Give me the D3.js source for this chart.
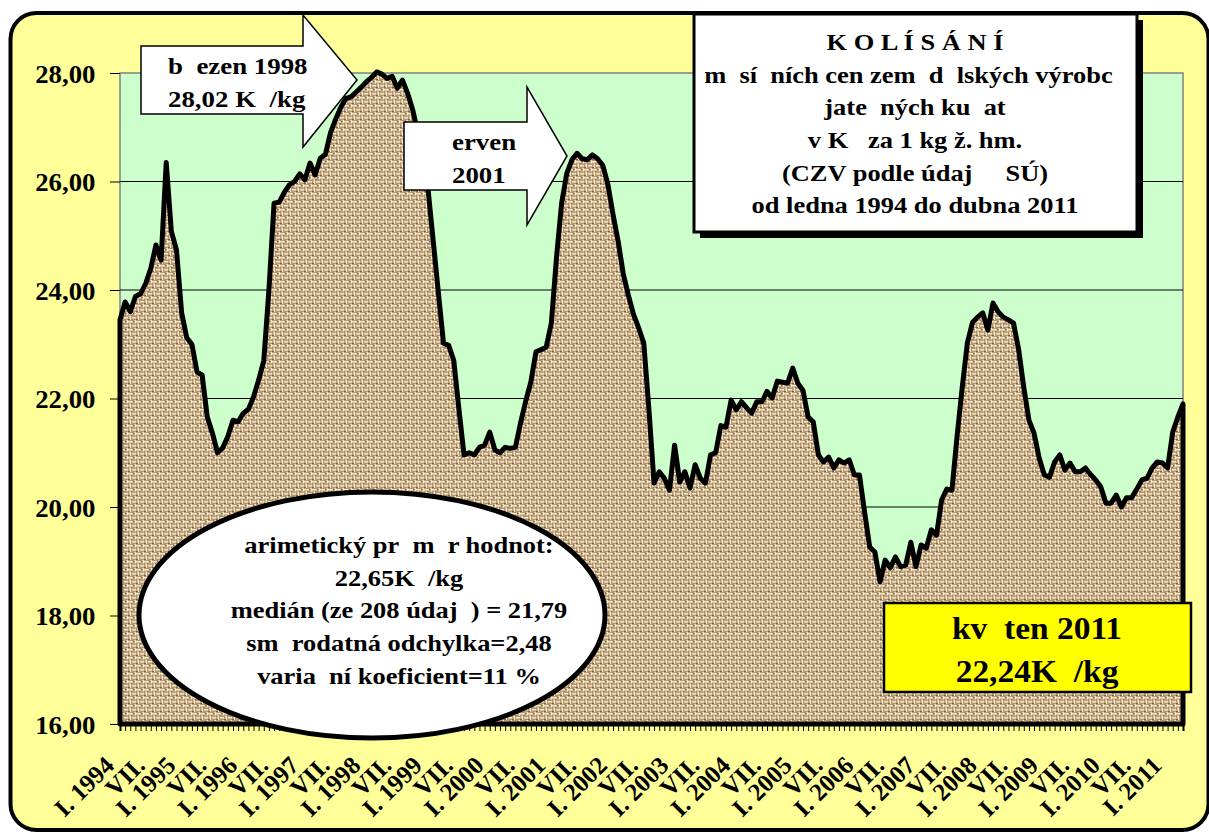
<!DOCTYPE html>
<html>
<head>
<meta charset="utf-8">
<script src="https://cdn.jsdelivr.net/npm/d3@7"></script>
<style>
  body { margin: 0; background: #fff; }
  svg text { font-weight: bold; white-space: pre; fill: #000; }
</style>
</head>
<body>
<svg id="chart" width="1209" height="834"></svg>
<script>
// monthly prices, Kc per kg (Jan 1994 .. Apr 2011)
const p1994 = [23.45, 23.78, 23.60, 23.88, 23.93, 24.12, 24.40, 24.83, 24.55, 26.35, 25.08, 24.74];
const p1995 = [23.58, 23.12, 23.00, 22.49, 22.43, 21.66, 21.36, 21.00, 21.09, 21.30, 21.60, 21.57];
const p1996 = [21.73, 21.80, 22.03, 22.34, 22.70, 24.00, 25.60, 25.62, 25.80, 25.94, 26.00, 26.14];
const p1997 = [26.03, 26.34, 26.12, 26.43, 26.50, 26.90, 27.15, 27.37, 27.53, 27.56, 27.65, 27.74];
const p1998 = [27.84, 27.92, 28.02, 27.98, 27.90, 27.94, 27.72, 27.87, 27.63, 27.32, 26.90, 26.45];
const p1999 = [25.85, 24.90, 23.95, 23.02, 22.98, 22.70, 21.80, 20.96, 21.00, 20.96, 21.10, 21.14];
const p2000 = [21.38, 21.05, 21.00, 21.10, 21.08, 21.10, 21.55, 21.95, 22.30, 22.86, 22.90, 22.95];
const p2001 = [23.39, 24.60, 25.60, 26.15, 26.40, 26.52, 26.42, 26.40, 26.49, 26.42, 26.30, 25.95];
const p2002 = [25.40, 24.90, 24.30, 23.90, 23.55, 23.30, 23.02, 21.80, 20.44, 20.65, 20.53, 20.31];
const p2003 = [21.14, 20.46, 20.65, 20.35, 20.78, 20.53, 20.44, 20.96, 21.00, 21.50, 21.47, 21.97];
const p2004 = [21.79, 21.94, 21.83, 21.73, 21.94, 21.94, 22.13, 22.01, 22.32, 22.30, 22.28, 22.56];
const p2005 = [22.28, 22.15, 21.66, 21.57, 20.96, 20.83, 20.92, 20.72, 20.87, 20.81, 20.87, 20.59];
const p2006 = [20.59, 19.90, 19.26, 19.17, 18.62, 19.02, 18.88, 19.08, 18.90, 18.93, 19.35, 18.90];
const p2007 = [19.30, 19.24, 19.58, 19.48, 20.13, 20.33, 20.31, 21.30, 22.20, 23.02, 23.40, 23.50];
const p2008 = [23.58, 23.26, 23.76, 23.60, 23.50, 23.45, 23.39, 22.90, 22.20, 21.60, 21.36, 20.90];
const p2009 = [20.59, 20.55, 20.83, 20.96, 20.68, 20.81, 20.65, 20.65, 20.72, 20.60, 20.50, 20.37];
const p2010 = [20.07, 20.07, 20.22, 20.00, 20.17, 20.17, 20.33, 20.50, 20.53, 20.72, 20.83, 20.81];
const p2011 = [20.72, 21.38, 21.66, 21.90];

const prices = [].concat(p1994, p1995, p1996, p1997, p1998, p1999, p2000, p2001, p2002,
                         p2003, p2004, p2005, p2006, p2007, p2008, p2009, p2010, p2011);
const firstYear = 1994;
const yTicks = [16, 18, 20, 22, 24, 26, 28];
const monthLabels = ["I.", "VII."];   // shown in January and July

const titleLines = ["K O L Í S Á N Í",
                    "m\u2002sí\u2002ních cen zem\u2002d\u2002lských výrobc\u2002",
                    "jate\u2002ných ku\u2002at",
                    "v K\u2002 za 1 kg ž. hm.",
                    "(CZV podle údaj\u2002 \u2002SÚ)",
                    "od ledna 1994 do dubna 2011"];
const statLines = ["arimetický pr\u2002m\u2002r hodnot:",
                   "22,65K\u2002/kg",
                   "medián (ze 208 údaj\u2002) = 21,79",
                   "sm\u2002rodatná odchylka=2,48",
                   "varia\u2002ní koeficient=11 %"];
const maxLines = ["b\u2002ezen 1998", "28,02 K\u2002/kg"];
const peakLines = ["erven", "2001"];
const lastLines = ["kv\u2002ten 2011", "22,24K\u2002/kg"];

const serif = "'Liberation Serif', 'Times New Roman', 'DejaVu Serif', serif";
const svg = d3.select("#chart");
const plot = { left: 120, right: 1183, top: 73, bottom: 724 };

// burlap-like fill
const defs = svg.append("defs");
const pat = defs.append("pattern").attr("id", "burlap")
    .attr("width", 8).attr("height", 8).attr("patternUnits", "userSpaceOnUse");
pat.append("rect").attr("width", 8).attr("height", 8).attr("fill", "#b49670");
[[0, 1, 5, 1.5], [4, 5, 4, 1.5], [6.5, 0, 1.5, 3.5], [1.5, 3.5, 1.5, 4.5]].forEach(r =>
    pat.append("rect").attr("x", r[0]).attr("y", r[1]).attr("width", r[2]).attr("height", r[3]).attr("fill", "#f4e9cb"));
[[5, 1, 1.5, 1], [0, 7, 2, 1], [3, 3, 1.5, 0.5]].forEach(r =>
    pat.append("rect").attr("x", r[0]).attr("y", r[1]).attr("width", r[2]).attr("height", r[3]).attr("fill", "#80603a"));

// outer frame
svg.append("rect")
    .attr("x", 10.5).attr("y", 13).attr("width", 1198).attr("height", 817)
    .attr("rx", 26)
    .attr("fill", "#ffff99").attr("stroke", "#000").attr("stroke-width", 4);

const x = d3.scalePoint().domain(d3.range(prices.length)).range([plot.left, plot.right]);
const y = d3.scaleLinear().domain([16, 28]).range([plot.bottom, plot.top]);

// plot area
svg.append("rect")
    .attr("x", plot.left).attr("y", plot.top)
    .attr("width", plot.right - plot.left).attr("height", plot.bottom - plot.top)
    .attr("fill", "#ccffcc").attr("stroke", "#808080").attr("stroke-width", 1.5);

svg.append("g").selectAll("line")
    .data(yTicks.slice(1, -1))
    .enter().append("line")
    .attr("x1", plot.left).attr("x2", plot.right)
    .attr("y1", d => y(d)).attr("y2", d => y(d))
    .attr("stroke", "#000").attr("stroke-width", 1.2);

// y axis
const yAxis = svg.append("g")
    .attr("transform", `translate(${plot.left},0)`)
    .call(d3.axisLeft(y).tickValues(yTicks).tickSize(10).tickPadding(13)
        .tickFormat(d => d3.format(".2f")(d).replace(".", ",")));
yAxis.attr("font-family", null);
yAxis.select(".domain").remove();
yAxis.selectAll("text").attr("font-size", 25).style("font-family", serif)
    .attr("transform", "scale(1.07,1)").attr("dy", "0.36em");

// area
const area = d3.area()
    .x((d, i) => x(i))
    .y0(y(16))
    .y1(d => y(d));
svg.append("path")
    .datum(prices)
    .attr("d", d => area(d) + "Z")
    .attr("fill", "url(#burlap)")
    .attr("stroke", "#000").attr("stroke-width", 5).attr("stroke-linejoin", "round");

// x axis
const tickLabel = i => i % 12 === 0 ? monthLabels[0] + " " + (firstYear + i / 12)
                     : i % 12 === 6 ? monthLabels[1] : "";
const xAxis = svg.append("g")
    .attr("transform", `translate(0,${plot.bottom})`)
    .call(d3.axisBottom(x).tickSize(7).tickFormat(tickLabel));
xAxis.attr("font-family", null);
xAxis.select(".domain").attr("stroke-width", 2);
xAxis.selectAll("text")
    .attr("font-size", 25).style("font-family", serif)
    .attr("x", 0).attr("y", 0).attr("dy", 0)
    .attr("text-anchor", "end")
    .attr("transform", "translate(-5,43) rotate(-45)");

function textLines(lines, tx, y0, lh, size, anchor, sx) {
    const g = svg.append("g").attr("transform", `translate(${tx},0) scale(${sx},1)`);
    lines.forEach((t, k) => g.append("text")
        .attr("x", 0).attr("y", y0 + k * lh)
        .attr("text-anchor", anchor).attr("font-size", size)
        .style("font-family", serif)
        .text(t));
}

// statistics ellipse
svg.append("ellipse")
    .attr("cx", 372).attr("cy", 615).attr("rx", 233).attr("ry", 123)
    .attr("fill", "#fff").attr("stroke", "#000").attr("stroke-width", 5);
textLines(statLines, 399, 553, 32.7, 23, "middle", 1.15);

// last value box
svg.append("rect")
    .attr("x", 884).attr("y", 603).attr("width", 307).attr("height", 89)
    .attr("fill", "#ffff00").attr("stroke", "#000").attr("stroke-width", 2.5);
textLines(lastLines, 1037, 639, 43, 31, "middle", 1.08);

// title box with shadow
svg.append("rect")
    .attr("x", 700).attr("y", 20).attr("width", 443).attr("height", 218)
    .attr("fill", "#000");
svg.append("rect")
    .attr("x", 694).attr("y", 14).attr("width", 443).attr("height", 218)
    .attr("fill", "#fff").attr("stroke", "#000").attr("stroke-width", 3);
textLines(titleLines, 915, 50, 32.7, 23, "middle", 1.15);

// arrow callouts
function arrow(left, top, bottom, base, headTop, headBottom, tip) {
    const mid = (top + bottom) / 2;
    const pts = [[left, top], [base, top], [base, headTop], [tip, mid],
                 [base, headBottom], [base, bottom], [left, bottom]];
    svg.append("path")
        .attr("d", d3.line()(pts) + "Z")
        .attr("fill", "#fff").attr("stroke", "#000").attr("stroke-width", 1.5);
}
arrow(141, 46, 114, 303, 15, 147, 357);
textLines(maxLines, 168, 74, 33, 24, "start", 1.12);
arrow(404, 122, 190, 527, 87, 225, 567);
textLines(peakLines, 452, 150, 33, 24, "start", 1.12);
</script>
</body>
</html>
